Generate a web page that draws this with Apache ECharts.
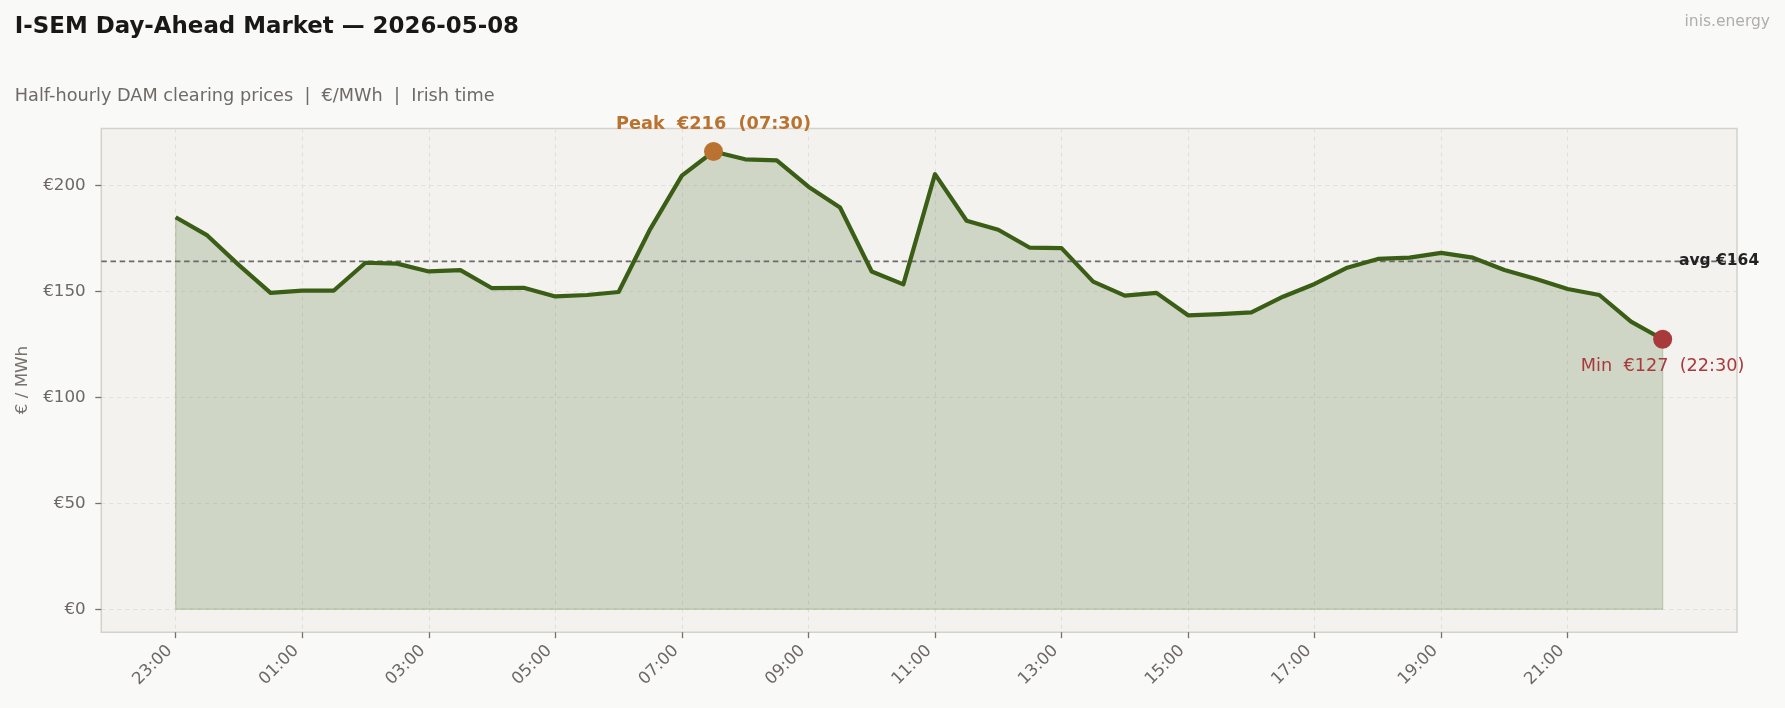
<!DOCTYPE html>
<html>
<head>
<meta charset="utf-8">
<script src="https://cdn.jsdelivr.net/npm/echarts@6/dist/echarts.min.js"></script>
<style>
  html, body { margin: 0; padding: 0; background: #f9f9f7; }
  #chart { width: 1785px; height: 708px; }
</style>
</head>
<body>
<div id="chart"></div>
<script>
// ---- Data ----
const times = [
  "23:00","23:30","00:00","00:30","01:00","01:30","02:00","02:30",
  "03:00","03:30","04:00","04:30","05:00","05:30","06:00","06:30",
  "07:00","07:30","08:00","08:30","09:00","09:30","10:00","10:30",
  "11:00","11:30","12:00","12:30","13:00","13:30","14:00","14:30",
  "15:00","15:30","16:00","16:30","17:00","17:30","18:00","18:30",
  "19:00","19:30","20:00","20:30","21:00","21:30","22:00","22:30"
];
const prices = [
  185.0, 176.4, 162.4, 149.3, 150.4, 150.4, 163.5, 163.1,
  159.4, 160.0, 151.5, 151.7, 147.6, 148.3, 149.7, 179.4,
  204.6, 216.0, 212.3, 211.8, 199.4, 189.6, 159.4, 153.3,
  205.3, 183.3, 179.1, 170.6, 170.4, 154.6, 148.0, 149.3,
  138.7, 139.3, 140.1, 147.5, 153.5, 161.0, 165.3, 165.9,
  168.2, 165.9, 160.1, 155.8, 151.1, 148.3, 135.7, 127.4
];
const yTickMin = 0, yTickMax = 200, yTickStep = 50;

// ---- Derived ----
const n = prices.length;
const avg = prices.reduce((a, b) => a + b, 0) / n;
const maxV = Math.max(...prices), minV = Math.min(...prices);
const iMax = prices.indexOf(maxV), iMin = prices.indexOf(minV);

// matplotlib-like 5% margins
const xPad = 0.05 * (n - 1);
const yLo = 0 - 0.05 * maxV, yHi = maxV + 0.05 * maxV;

// ---- Layout ----
const FONT = "DejaVu Sans";
const plot = { left: 101.3, top: 128.6, right: 1737, bottom: 632.2 };
const plotW = plot.right - plot.left, plotH = plot.bottom - plot.top;
const unit = plotW / (n - 1 + 2 * xPad);
const dataL = plot.left + xPad * unit;
const dataR = dataL + (n - 1) * unit;
const yPix = v => plot.bottom - (v - yLo) / (yHi - yLo) * plotH;

const tickColor = '#6d6864';
const gridLine = { type: [4, 4], color: '#e2dfda', width: 1 };
const fillRGBA = 'rgba(59,94,22,0.19)';
const ptSeries = (x, y, extra) => Object.assign({
  type: 'scatter', xAxisIndex: 0, yAxisIndex: 0, silent: true, z: 5,
  data: [[x, y]]
}, extra);
const edgeSeries = data => ({
  type: 'line', xAxisIndex: 0, yAxisIndex: 0, silent: true, showSymbol: false,
  data, lineStyle: { color: fillRGBA, width: 1.4 }
});

const chart = echarts.init(document.getElementById('chart'), null, { renderer: 'canvas' });
chart.setOption({
  animation: false,
  backgroundColor: '#f9f9f7',
  textStyle: { fontFamily: FONT },
  grid: [
    { left: plot.left, top: plot.top, width: plotW, height: plotH, show: true,
      backgroundColor: '#f3f2ef', borderColor: '#d5d1cb', borderWidth: 1.5 },
    { left: plot.left, top: yPix(yTickMax), width: plotW, height: yPix(yTickMin) - yPix(yTickMax) },
    { left: dataL, top: plot.top, width: dataR - dataL, height: plotH }
  ],
  xAxis: [
    { gridIndex: 0, type: 'value', min: -xPad, max: n - 1 + xPad, show: false },
    { gridIndex: 1, type: 'value', min: 0, max: 1, show: false },
    { gridIndex: 2, type: 'category', data: times, boundaryGap: false,
      axisLine: { show: false },
      axisTick: { show: true, interval: 3, length: 6, lineStyle: { color: '#77716d', width: 1.3 } },
      axisLabel: { interval: 3, rotate: 45, align: 'right', verticalAlign: 'bottom', margin: 22,
                   fontSize: 16.7, color: tickColor, fontFamily: FONT },
      splitLine: { show: true, interval: 3, lineStyle: gridLine } }
  ],
  yAxis: [
    { gridIndex: 0, type: 'value', min: yLo, max: yHi, show: false },
    { gridIndex: 1, type: 'value', min: yTickMin, max: yTickMax, interval: yTickStep,
      axisLine: { show: false },
      axisTick: { show: true, length: 6, lineStyle: { color: '#77716d', width: 1.3 } },
      axisLabel: { formatter: v => '€' + v, margin: 15.6, fontSize: 16.7, color: tickColor, fontFamily: FONT },
      splitLine: { show: true, lineStyle: gridLine } },
    { gridIndex: 2, type: 'value', min: 0, max: 1, show: false }
  ],
  series: [
    { type: 'line', xAxisIndex: 0, yAxisIndex: 0, silent: true,
      data: prices.map((v, i) => [i, v]), showSymbol: false,
      lineStyle: { width: 1, color: 'rgba(59,94,22,0.0)' },
      areaStyle: { color: fillRGBA, opacity: 1 } },
    edgeSeries([[0, 0], [n - 1, 0]]),
    edgeSeries([[0, 0], [0, prices[0]]]),
    edgeSeries([[n - 1, 0], [n - 1, prices[n - 1]]]),
    { type: 'line', xAxisIndex: 0, yAxisIndex: 0, silent: true, showSymbol: false,
      data: [[-xPad, avg], [n - 1 + xPad, avg]],
      lineStyle: { color: '#6a6a6a', width: 1.7, type: [5.5, 3.7] } },
    { type: 'line', xAxisIndex: 0, yAxisIndex: 0, silent: true, showSymbol: false, z: 4,
      data: prices.map((v, i) => [i, v]),
      lineStyle: { color: '#3b5e16', width: 4.2, join: 'round' } },
    ptSeries(iMax, maxV, {
      symbolSize: 19, itemStyle: { color: '#b9722f', opacity: 1 },
      label: { show: true, position: 'top', distance: 9,
               formatter: () => `Peak  €${Math.round(maxV)}  (${times[iMax]})`,
               color: '#b9722f', fontWeight: 'bold', fontSize: 17.7, fontFamily: FONT } }),
    ptSeries(iMin, minV, {
      symbolSize: 19, itemStyle: { color: '#a83a3c', opacity: 1 },
      label: { show: true, position: 'bottom', distance: 8.5,
               formatter: () => `Min  €${Math.round(minV)}  (${times[iMin]})`,
               color: '#a83a3c', fontSize: 17.7, fontFamily: FONT } }),
    ptSeries(n - 0.5, avg, {
      symbolSize: 1, itemStyle: { color: 'rgba(0,0,0,0)', opacity: 1 },
      label: { show: true, position: 'right', distance: 0,
               formatter: () => `avg €${Math.round(avg)}`,
               color: '#222222', fontWeight: 'bold', fontSize: 15.5, fontFamily: FONT } })
  ],
  graphic: [
    { type: 'text', left: 14.8, top: 15.5, style: { text: 'I-SEM Day-Ahead Market — 2026-05-08',
      font: `bold 22.9px "${FONT}"`, fill: '#1a1817' } },
    { type: 'text', left: 14.8, top: 87.5, style: { text: 'Half-hourly DAM clearing prices  |  €/MWh  |  Irish time',
      font: `17.7px "${FONT}"`, fill: '#6e6a66' } },
    { type: 'text', right: 15, top: 14, style: { text: 'inis.energy',
      font: `15.5px "${FONT}"`, fill: '#b0aeab' } },
    { type: 'text', x: 22.7, y: 380, rotation: Math.PI / 2,
      style: { text: '€ / MWh', font: `16.7px "${FONT}"`, fill: '#77716d', align: 'center', verticalAlign: 'middle' } }
  ]
});
</script>
</body>
</html>
